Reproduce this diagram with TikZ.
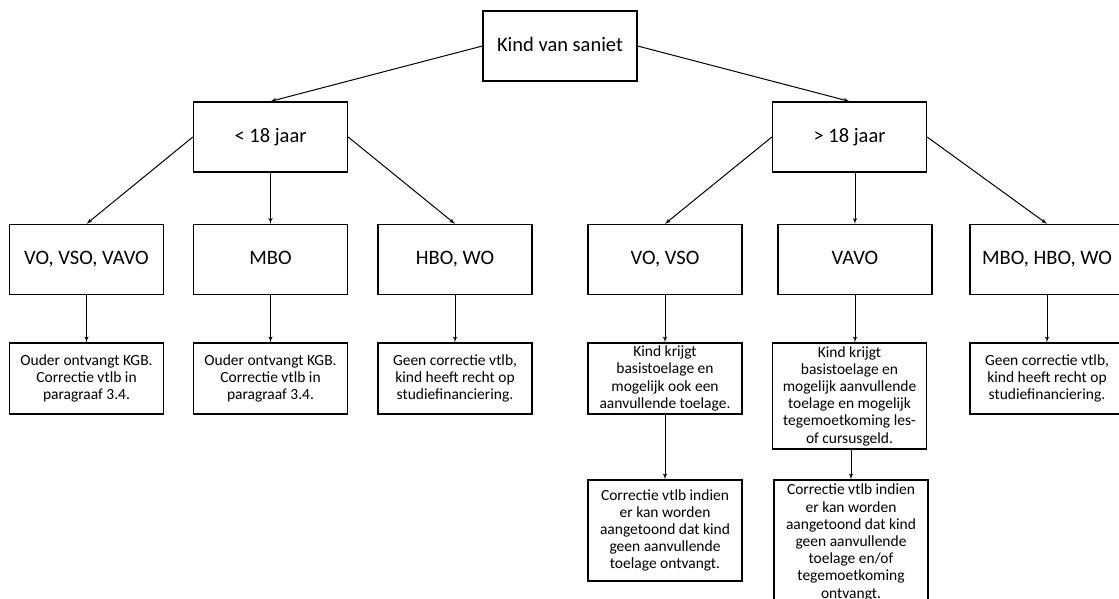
\documentclass[tikz,border=0pt]{standalone}
\usepackage{fontspec}
\setmainfont{Carlito}
\usetikzlibrary{arrows,positioning}

\begin{document}
\begin{tikzpicture}[x=1pt, y=1pt, node distance=184pt, >=latex', line width=1pt]
        \tikzstyle{block} = [draw, line width=1.3pt, rectangle, minimum height=70pt, minimum width=154pt, text height=14.5pt, text depth=4pt, font=\fontsize{20.5}{24}\selectfont]
        \tikzstyle{info} = [draw, line width=1.3pt, rectangle, minimum height=71pt, minimum width=154pt, inner sep=2pt, align=center, font=\fontsize{15.5}{17.2}\selectfont]

        \useasboundingbox (0,0) rectangle (1119,598);

        \node [block] (kind) at (560,552) {Kind van saniet};
        \node [block] (vo1) at (86.5,338.5) {VO, VSO, VAVO};
        \node [block, right of=vo1] (mbo1) {MBO};
        \node [block, right of=mbo1, node distance=184.5pt] (hbo1) {HBO, WO};
        \node [block, right of=hbo1, node distance=210pt] (vo2) {VO, VSO};
        \node [block, right of=vo2, node distance=190pt] (vavo2) {VAVO};
        \node [block, right of=vavo2, node distance=192pt] (hbo2) {MBO, HBO, WO};
        \node [block, above of=mbo1, node distance=122.5pt] (jong) {< 18 jaar};
        \node [block, above of=vavo2, node distance=122.5pt, xshift=-5.5pt] (oud) {> 18 jaar};

        \node [info, below of=vo1, node distance=119pt] (kgb1) {Ouder ontvangt KGB.\\ Correctie vtlb in\\ paragraaf 3.4.};
        \node [info, below of=mbo1, node distance=119pt] (kgb2) {Ouder ontvangt KGB.\\ Correctie vtlb in\\ paragraaf 3.4.};
        \node [info, below of=hbo1, node distance=119pt] (geen1) {Geen correctie vtlb,\\ kind heeft recht op\\ studiefinanciering.};
        \node [info, below of=vo2, node distance=119pt] (toel1) {Kind krijgt\\ basistoelage en\\ mogelijk ook een\\ aanvullende toelage.};
        \node [info, below of=vavo2, node distance=136.5pt, xshift=-5.5pt, minimum height=106pt] (toel2) {Kind krijgt\\ basistoelage en\\ mogelijk aanvullende\\ toelage en mogelijk\\ tegemoetkoming les-\\ of cursusgeld.};
        \node [info, below of=hbo2, node distance=119pt] (geen2) {Geen correctie vtlb,\\ kind heeft recht op\\ studiefinanciering.};
        \node [info, below of=toel1, node distance=152pt, minimum height=101pt] (corr1) {Correctie vtlb indien\\ er kan worden\\ aangetoond dat kind\\ geen aanvullende\\ toelage ontvangt.};
        \node [info, below of=toel2, node distance=146.5pt, xshift=1.5pt, minimum height=125pt] (corr2) {Correctie vtlb indien\\ er kan worden\\ aangetoond dat kind\\ geen aanvullende\\ toelage en/of\\ tegemoetkoming\\ ontvangt.};

        \draw [->] (kind.west) -- (jong.north);
        \draw [->] (kind.east) -- (oud.north);
        \draw [->] (jong.west) -- (vo1.north);
        \draw [->] (jong) -- (mbo1);
        \draw [->] (jong.east) -- (hbo1.north);
        \draw [->] (oud.west) -- (vo2.north);
        \draw [->] (oud.south -| vavo2) -- (vavo2);
        \draw [->] (oud.east) -- (hbo2.north);
        \draw [->] (vo1) -- (kgb1);
        \draw [->] (mbo1) -- (kgb2);
        \draw [->] (hbo1) -- (geen1);
        \draw [->] (vo2) -- (toel1);
        \draw [->] (vavo2) -- (vavo2 |- toel2.north);
        \draw [->] (hbo2) -- (geen2);
        \draw [->] (toel1) -- (corr1);
        \draw [->] (toel2.south -| corr2) -- (corr2);
    \end{tikzpicture}
\end{document}
